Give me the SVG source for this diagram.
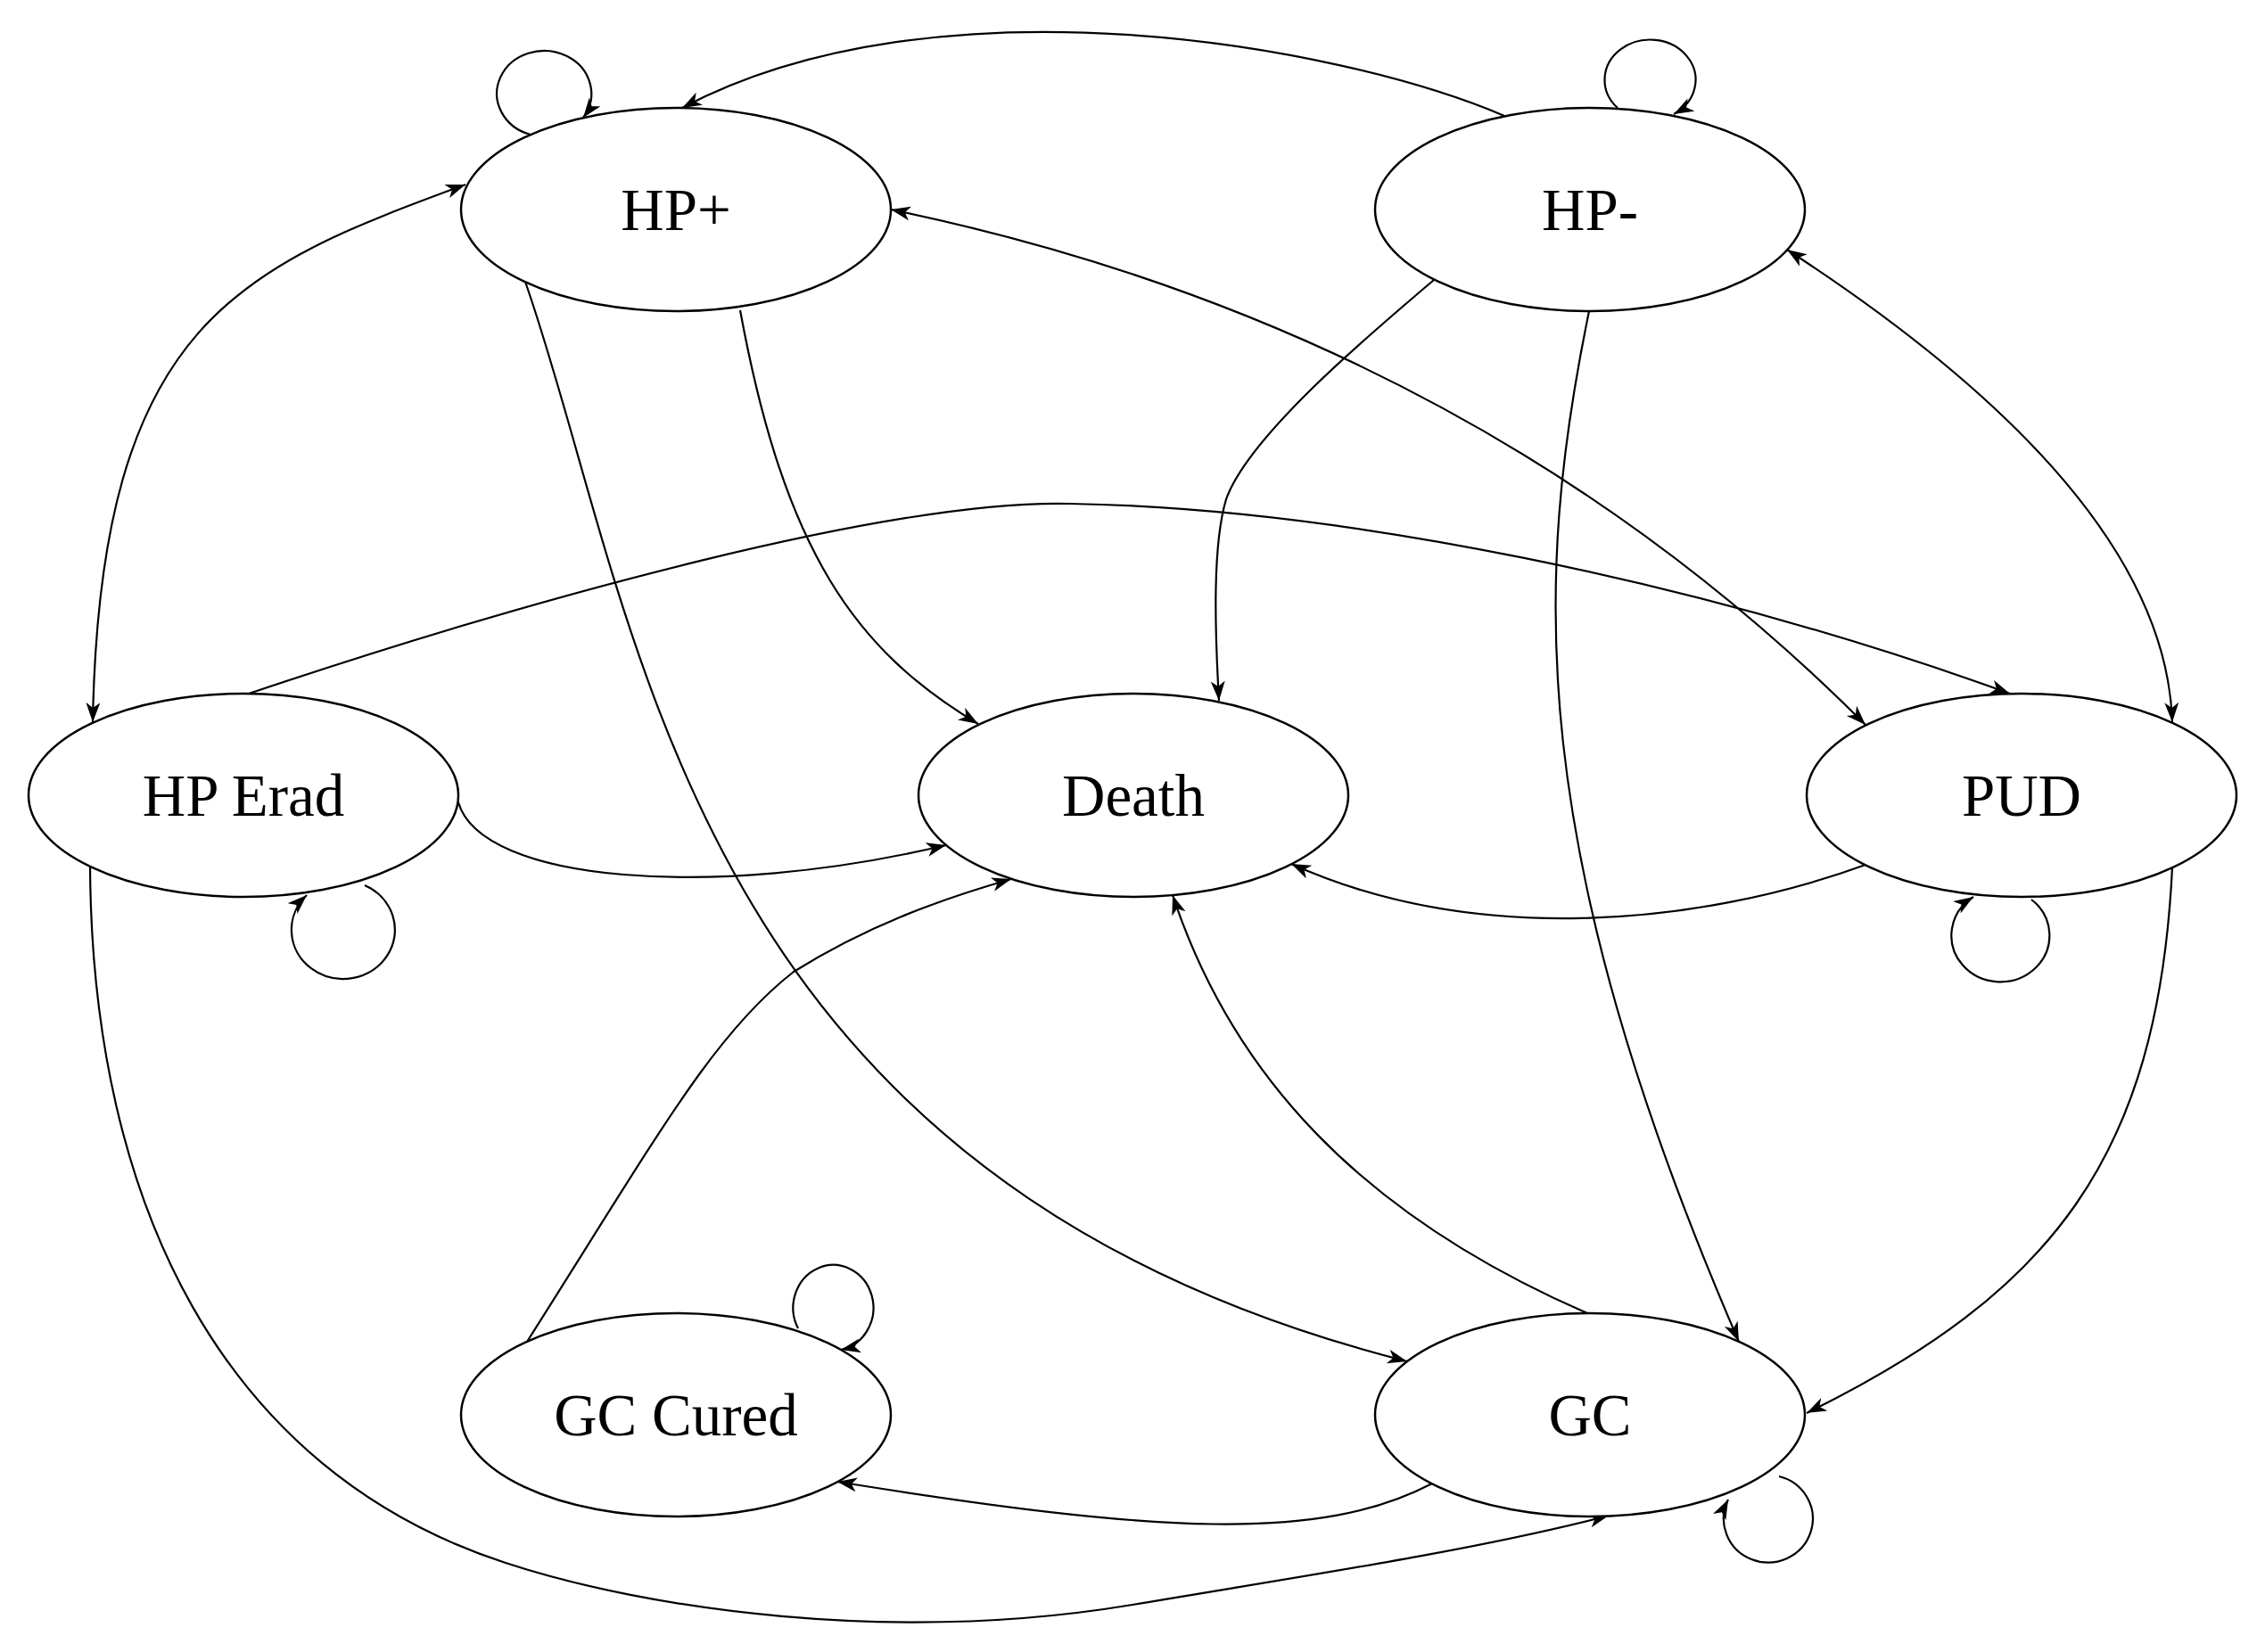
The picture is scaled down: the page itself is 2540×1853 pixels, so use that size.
<svg xmlns="http://www.w3.org/2000/svg" width="2540" height="1853" viewBox="0 0 2540 1853">
<style>
.node ellipse{fill:#fff;stroke:#000;stroke-width:2.5}
.node text{font-family:"Liberation Serif","Times New Roman",serif;font-size:67px;fill:#000;text-anchor:middle}
.edges path{fill:none;stroke:#000;stroke-width:2.2}
.a{marker-end:url(#arr)}
.b{marker-start:url(#arr);marker-end:url(#arr)}
</style>
<defs>
<marker id="arr" markerUnits="userSpaceOnUse" markerWidth="24" markerHeight="18" refX="22" refY="8" orient="auto-start-reverse">
<path d="M0,0 L22,8 L0,16 L6,8 z" fill="#000"/>
</marker>
</defs>
<rect width="2540" height="1853" fill="#fff"/>
<g class="edges">
<path class="a" d="M595,151 A53 48 0 1 1 654,132"/>
<path class="a" d="M1814,121 A51 45 0 1 1 1877,128"/>
<path class="a" d="M409,993 A58 55 0 1 1 344,1004"/>
<path class="a" d="M2278,1009 A55 52 0 1 1 2213,1006"/>
<path class="a" d="M895,1490 A45 48 0 1 1 943,1514"/>
<path class="a" d="M1995,1656 A50 49 0 1 1 1938,1682"/>
<path class="a" d="M1687,130 C1500,50 1050,-30 765,121"/>
<path class="b" d="M522,207 C270,300 112,360 104,810"/>
<path class="a" d="M830,348 C880,620 960,730 1097,812"/>
<path class="a" d="M589,316 C720,690 760,1320 1578,1527"/>
<path class="a" d="M1608,314 C1530,380 1400,490 1375,560 C1360,610 1362,700 1367,786"/>
<path class="a" d="M1782,349 C1720,650 1710,950 1950,1505"/>
<path class="b" d="M2004,280 C2250,440 2430,620 2436,810"/>
<path class="b" d="M999,235 Q1650,370 2092,813"/>
<path class="a" d="M279,778 C600,670 1000,560 1200,565 C1500,570 1900,650 2254,778"/>
<path class="a" d="M514,900 C540,990 800,1010 1061,948"/>
<path class="a" d="M2092,970 C1900,1040 1650,1060 1448,969"/>
<path class="a" d="M2436,973 C2420,1300 2300,1450 2026,1585"/>
<path class="a" d="M1780,1473 C1520,1360 1380,1200 1315,1004"/>
<path class="a" d="M591,1505 C740,1270 800,1160 890,1090 C970,1040 1050,1010 1134,986"/>
<path class="a" d="M1606,1664 C1480,1730 1300,1720 939,1662"/>
<path class="a" d="M101,972 C103,1350 250,1650 567,1753 C725,1805 1000,1845 1270,1800 C1459,1768 1650,1740 1804,1700"/>
</g>
<g id="hp-plus" class="node"><ellipse cx="758" cy="235" rx="241" ry="114"/><text x="758" y="258">HP+</text></g>
<g id="hp-minus" class="node"><ellipse cx="1783" cy="235" rx="241" ry="114"/><text x="1783" y="258">HP-</text></g>
<g id="hp-erad" class="node"><ellipse cx="273" cy="892" rx="241" ry="114"/><text x="273" y="915">HP Erad</text></g>
<g id="death" class="node"><ellipse cx="1271" cy="892" rx="241" ry="114"/><text x="1271" y="915">Death</text></g>
<g id="pud" class="node"><ellipse cx="2267" cy="892" rx="241" ry="114"/><text x="2267" y="915">PUD</text></g>
<g id="gc-cured" class="node"><ellipse cx="758" cy="1587" rx="241" ry="114"/><text x="758" y="1610">GC Cured</text></g>
<g id="gc" class="node"><ellipse cx="1783" cy="1587" rx="241" ry="114"/><text x="1783" y="1610">GC</text></g>
</svg>
